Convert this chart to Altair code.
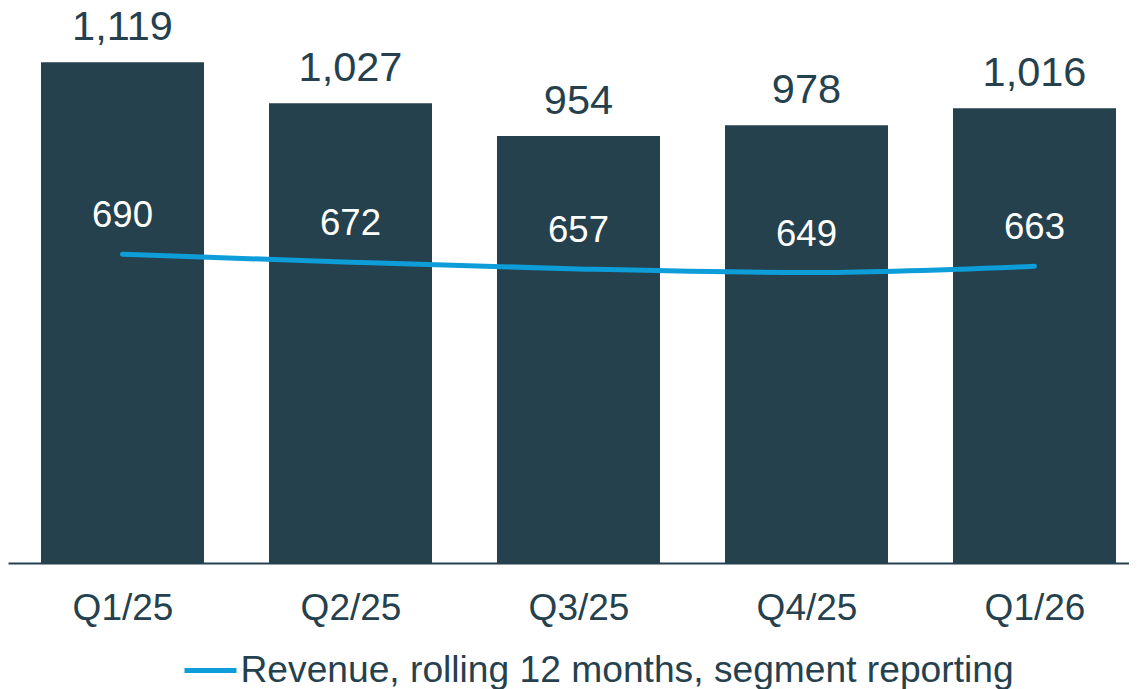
import json
import altair as alt
import pandas as pd

quarters = ["Q1/25", "Q2/25", "Q3/25", "Q4/25", "Q1/26"]
quarter_revenue = [1119, 1027, 954, 978, 1016]
rolling_12m = [690, 672, 657, 649, 663]
series_name = "Revenue, rolling 12 months, segment reporting"

df = pd.DataFrame({
    "idx": list(range(len(quarters))),
    "quarter": quarters,
    "revenue": quarter_revenue,
    "rolling": rolling_12m,
    "series": [series_name] * len(quarters),
})

DARK = "#26414e"
BLUE = "#0d9dd9"
FONT = "Liberation Sans"

label_expr = json.dumps(quarters) + "[datum.value]"

x = alt.X(
    "idx:Q",
    scale=alt.Scale(domain=[-0.5022, 4.4145], nice=False, zero=False, padding=0),
    axis=alt.Axis(
        title=None, values=list(range(len(quarters))), labelExpr=label_expr,
        labelAngle=0, labelFontSize=37, labelFont=FONT, labelColor=DARK,
        labelPadding=27, ticks=False, tickSize=0, grid=False,
        domainColor=DARK, domainWidth=2, labelFlush=False, labelOverlap=False,
    ),
)
y_scale = alt.Scale(domain=[0, 1240], nice=False, padding=0)

base = alt.Chart(df)

bars = base.mark_bar(color=DARK, width=163).encode(
    x=x,
    y=alt.Y("revenue:Q", scale=y_scale, axis=None),
)

bar_labels = base.mark_text(
    font=FONT, fontSize=41.5, color=DARK, baseline="alphabetic", dy=-22
).encode(
    x=x,
    y=alt.Y("revenue:Q", scale=y_scale),
    text=alt.Text("revenue:Q", format=",d"),
)

line = base.mark_line(strokeWidth=5, interpolate="monotone", strokeCap="round").encode(
    x=x,
    y=alt.Y("rolling:Q", scale=y_scale),
    color=alt.Color(
        "series:N",
        scale=alt.Scale(range=[BLUE]),
        legend=alt.Legend(
            title=None, orient="none", legendX=174, legendY=634,
            symbolType="stroke", symbolSize=2704, symbolStrokeWidth=5,
            labelFontSize=37.2, labelFont=FONT, labelColor=DARK, labelLimit=0,
            labelOffset=1.5, padding=0,
        ),
    ),
)

line_labels = base.mark_text(
    font=FONT, fontSize=36.5, color="white", baseline="alphabetic", dy=-27
).encode(
    x=x,
    y=alt.Y("rolling:Q", scale=y_scale),
    text=alt.Text("rolling:Q", format=",d"),
)

chart = alt.layer(bars, bar_labels, line, line_labels).properties(
    width=1121,
    height=555,
    autosize=alt.AutoSizeParams(type="none"),
    padding={"left": 0, "top": 0, "right": 0, "bottom": 126},
).configure_view(stroke=None)

chart.save("out.html", embed_options={"renderer": "svg", "actions": False})
